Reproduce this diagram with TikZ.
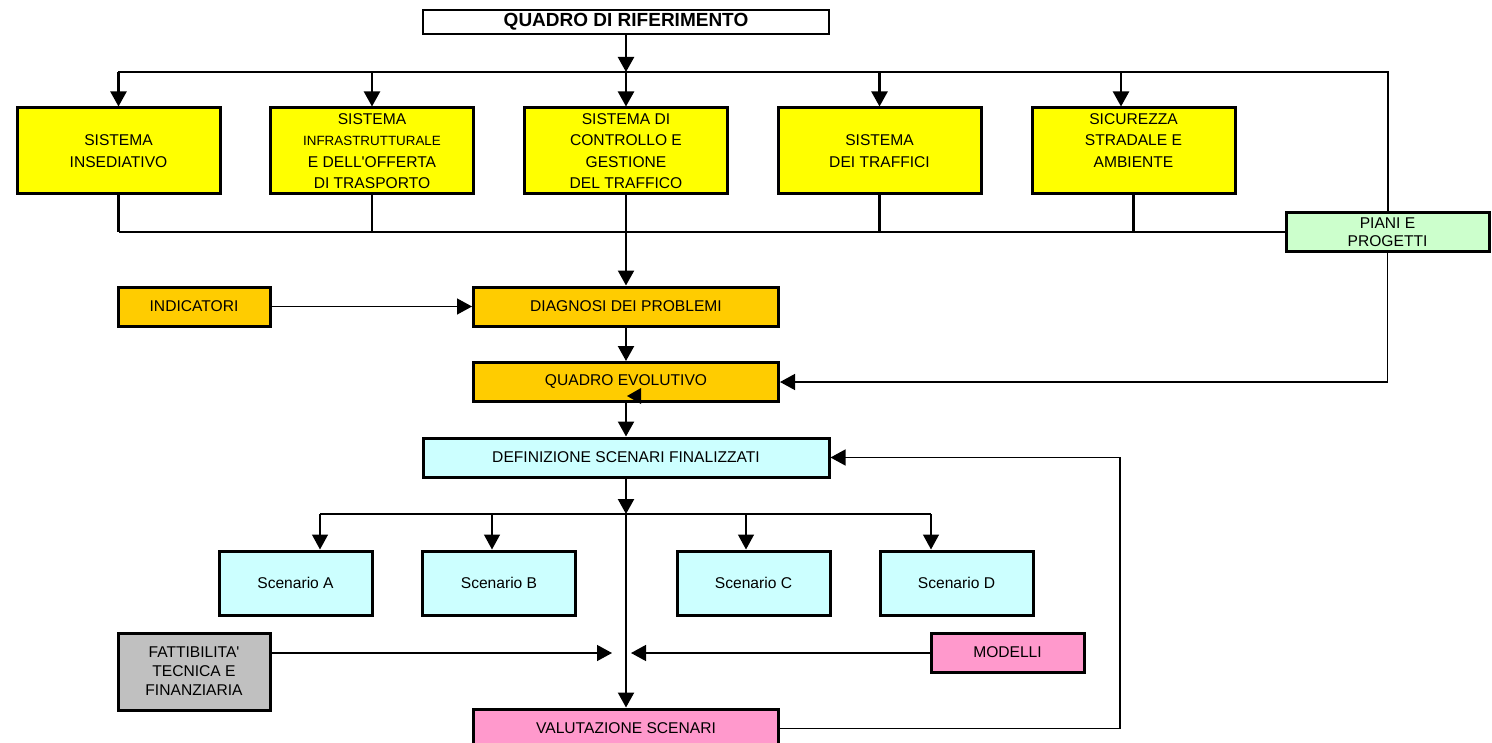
\documentclass[tikz,border=0pt]{standalone}
\usepackage{fontspec}
\setmainfont{Liberation Sans}
\usetikzlibrary{arrows.meta}

\definecolor{sysyellow}{HTML}{FFFF00}
\definecolor{diagorange}{HTML}{FFCC00}
\definecolor{scencyan}{HTML}{CCFFFF}
\definecolor{pianigreen}{HTML}{CCFFCC}
\definecolor{fattgray}{HTML}{C0C0C0}
\definecolor{valpink}{HTML}{FF99CC}

\begin{document}
\begin{tikzpicture}[x=0.5pt,y=-0.5pt,
	box/.style={draw,line width=1.5pt,align=center,inner sep=0pt,font=\fontsize{7.8}{10.75}\selectfont},
	topbox/.style={box,line width=1.3pt,minimum width=203pt,minimum height=12pt,font=\bfseries\fontsize{9.5}{11}\selectfont},
	sysbox/.style={box,fill=sysyellow,minimum width=101.5pt,minimum height=43pt},
	midbox/.style={box,minimum width=152.5pt,minimum height=19.5pt},
	smallbox/.style={box,minimum width=76pt,minimum height=19.5pt},
	scenbox/.style={box,fill=scencyan,minimum width=76.5pt,minimum height=32pt},
	thick line/.style={line width=1.1pt},
	thin line/.style={line width=0.7pt},
	arr/.style={-{Triangle[length=7.5pt,width=8pt]}}]
	\useasboundingbox (0,0) rectangle (1492,743);
	
	%BOXES
	\node[topbox] (rif) at (626,22) {QUADRO DI RIFERIMENTO};
	\node[sysbox] (sis1) at (118.5,151) {SISTEMA\\INSEDIATIVO};
	\node[sysbox] (sis2) at (372,151) {SISTEMA\\{\fontsize{6.7}{10.75}\selectfont INFRASTRUTTURALE}\\E DELL\textquotesingle OFFERTA\\DI TRASPORTO};
	\node[sysbox] (sis3) at (626,151) {SISTEMA DI\\CONTROLLO E\\GESTIONE\\DEL TRAFFICO};
	\node[sysbox] (sis4) at (879.5,151) {SISTEMA\\DEI TRAFFICI};
	\node[sysbox] (sis5) at (1133.5,151) {SICUREZZA\\STRADALE E\\AMBIENTE\\\mbox{}};
	\node[box,fill=pianigreen,minimum width=101.5pt,minimum height=19.5pt,font=\fontsize{7.8}{8.75}\selectfont] (piani) at (1387.5,232) {PIANI E\\PROGETTI};
	\node[smallbox,fill=diagorange] (ind) at (194,306.5) {INDICATORI};
	\node[midbox,fill=diagorange] (diag) at (626,306.5) {DIAGNOSI DEI PROBLEMI};
	\node[midbox,fill=diagorange] (evol) at (626,382) {QUADRO EVOLUTIVO};
	\node[box,fill=scencyan,minimum width=203pt,minimum height=19.5pt] (defin) at (626,457.5) {DEFINIZIONE SCENARI FINALIZZATI};
	\foreach \n/\x/\l in {scA/295.5/A,scB/499/B,scC/753.5/C,scD/956.5/D}
		\node[scenbox] (\n) at (\x,583) {Scenario \l};
	\node[smallbox,fill=fattgray,minimum height=38.5pt,font=\fontsize{7.8}{9.5}\selectfont] (fatt) at (194,671.5) {FATTIBILITA\textquotesingle\\TECNICA E\\FINANZIARIA};
	\node[smallbox,fill=valpink,minimum width=76.5pt] (model) at (1007.5,652.5) {MODELLI};
	\node[midbox,fill=valpink] (valut) at (626,728.5) {VALUTAZIONE SCENARI};
	
	%TOP BUS
	\coordinate (tl) at (118,72);
	\coordinate (tr) at (1388,72);
	\draw[thick line,arr] (rif.south) -- (rif.south |- tl);
	\draw[thick line] (tl) -- (tr) -- (tr |- piani.north);
	\foreach \s/\d in {sis1/0,sis2/0,sis3/0,sis4/0,sis5/-6.25}{
		\coordinate (a) at ([xshift=\d pt]\s.north);
		\draw[thick line,arr] (a |- tl) -- (a);
	}
	
	%BOTTOM BUS
	\coordinate (bl) at (sis1.south |- piani.west);
	\draw[thick line] (bl) -- (piani.west);
	\foreach \s in {sis1,sis2,sis4,sis5} \draw[thick line] (\s.south) -- (\s.south |- bl);
	\draw[thick line,arr] (sis3.south) -- (diag.north);
	
	%DIAGNOSIS
	\draw[thin line,arr] (ind) -- (diag);
	\draw[thick line,arr] (diag) -- (evol);
	\draw[thin line,arr] (piani.south) |- (evol.east);
	\draw[thick line,arr] (evol) -- (defin);
	\fill (627,396) -- (641,388) -- (641,404) -- cycle;
	
	%SCENARIOS
	\coordinate (sj) at (626,514);
	\coordinate (sl) at (320,514);
	\coordinate (sr) at (931,514);
	\draw[thick line,arr] (defin) -- (sj);
	\draw[thin line] (sl) -- (sr);
	\foreach \n/\d in {scA/12.25,scB/-3.5,scC/-3.75,scD/-12.75}{
		\coordinate (b) at ([xshift=\d pt]\n.north);
		\draw[thin line,arr] (b |- sj) -- (b);
	}
	\draw[thick line,arr] (sj) -- (valut);
	
	%EVALUATION
	\coordinate (fin) at (612,653);
	\coordinate (min) at (631,653);
	\coordinate (rr) at (1120,457);
	\draw[thin line,arr] (fatt.east |- fin) -- (fin);
	\draw[thin line,arr] (model.west |- min) -- (min);
	\draw[thin line,arr] (valut.east) -| (rr |- defin.east) -- (defin.east);
\end{tikzpicture}
\end{document}
